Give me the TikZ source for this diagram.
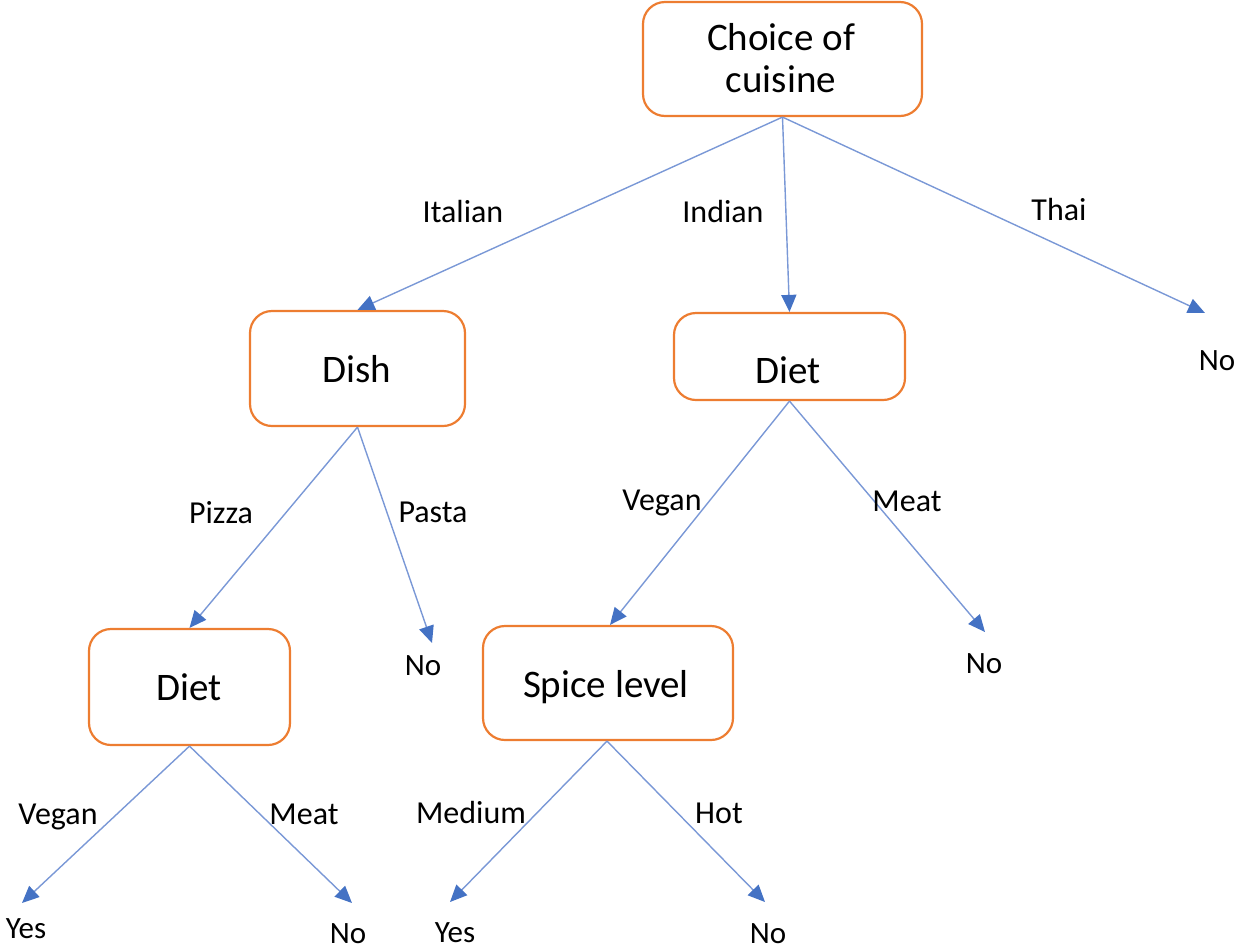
\documentclass[tikz,border=0pt]{standalone}
\usepackage{fontspec}
\setmainfont{Carlito}
\usetikzlibrary{arrows.meta}
\definecolor{boxorange}{RGB}{237,125,49}
\definecolor{linkblue}{RGB}{122,152,214}
\definecolor{tipblue}{RGB}{68,114,196}
\begin{document}
\begin{tikzpicture}[x=1pt,y=-1pt,
  box/.style={draw=boxorange,line width=2.2pt,rounded corners=22pt,fill=white,
              inner sep=0pt,rectangle},
  boxtext/.style={font=\fontsize{39}{42}\selectfont,anchor=base,inner sep=0pt},
  edgetext/.style={font=\fontsize{32}{36}\selectfont,anchor=base,inner sep=0pt},
  leaftext/.style={font=\fontsize{31}{35}\selectfont,anchor=base,inner sep=0pt},
  link/.style={draw=linkblue,line width=1.4pt,
               -{Triangle[length=17pt,width=15pt,fill=tipblue,color=tipblue]}}]
\useasboundingbox (0,0) rectangle (1236,951);

% decision boxes
\node[box,minimum width=279pt,minimum height=114pt] (root)  at (782.5,59)  {};
\node[box,minimum width=215pt,minimum height=115pt] (dish)  at (357.5,368.5) {};
\node[box,minimum width=231pt,minimum height=87pt]  (dietA) at (789.5,356.5) {};
\node[box,minimum width=201pt,minimum height=116pt] (dietB) at (189.5,687) {};
\node[box,minimum width=250pt,minimum height=114pt] (spice) at (608,683) {};

% box captions
\node[boxtext] (rootA) at (781,50) {Choice of};
\node[boxtext] (rootB) at (781,92) {cuisine};
\node[boxtext] (dishT) at (357,382) {Dish};
\node[boxtext] (dietAT) at (788,383) {Diet};
\node[boxtext] (dietBT) at (189,700) {Diet};
\node[boxtext] (spiceT) at (606,697) {Spice level};

% arrow tips of the outcome branches
\coordinate (tThai)   at (1205,313);
\coordinate (tPasta)  at (432,643);
\coordinate (tMeatA)  at (985,632);
\coordinate (tVeganB) at (22,903);
\coordinate (tMeatB)  at (352,903);
\coordinate (tMed)    at (450,902);
\coordinate (tHot)    at (765,902);

% outcomes
\node[leaftext] (noThai)  at (1217,370) {No};
\node[leaftext] (noPasta) at (423,675) {No};
\node[leaftext] (noMeatA) at (984,673) {No};
\node[leaftext] (yesB)    at (26,938) {Yes};
\node[leaftext] (noB)     at (348,943) {No};
\node[leaftext] (yesMed)  at (455,942) {Yes};
\node[leaftext] (noHot)   at (768,943) {No};

% branches
\draw[link] (root.south) -- (dish.north);
\draw[link] (root.south) -- (dietA.north);
\draw[link] (root.south) -- (tThai);
\draw[link] (dish.south) -- (dietB.north);
\draw[link] (dish.south) -- (tPasta);
\draw[link] (dietA.south) -- ([xshift=2pt]spice.north);
\draw[link] (dietA.south) -- (tMeatA);
\draw[link] (dietB.south) -- (tVeganB);
\draw[link] (dietB.south) -- (tMeatB);
\draw[link] ([xshift=-1pt]spice.south) -- (tMed);
\draw[link] ([xshift=-1pt]spice.south) -- (tHot);

% branch labels
\node[edgetext] (lItalian) at (463,222) {Italian};
\node[edgetext] (lIndian)  at (723,222) {Indian};
\node[edgetext] (lThai)    at (1059,220) {Thai};
\node[edgetext] (lPizza)   at (221,523) {Pizza};
\node[edgetext] (lPasta)   at (433,522) {Pasta};
\node[edgetext] (lVeganA)  at (662,510) {Vegan};
\node[edgetext] (lMeatA)   at (907,511) {Meat};
\node[edgetext] (lVeganB)  at (58,824) {Vegan};
\node[edgetext] (lMeatB)   at (304,824) {Meat};
\node[edgetext] (lMed)     at (471,823) {Medium};
\node[edgetext] (lHot)     at (719,823) {Hot};
\end{tikzpicture}
\end{document}
